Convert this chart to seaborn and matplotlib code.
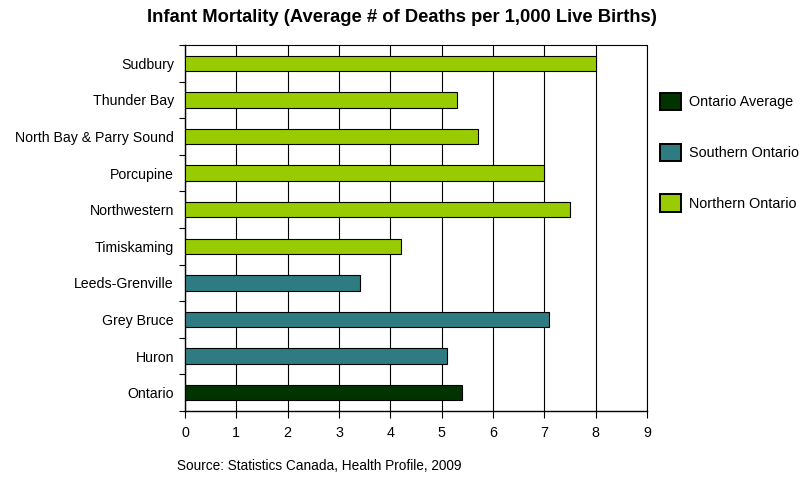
import matplotlib
matplotlib.use("Agg")
import matplotlib.pyplot as plt
from matplotlib.patches import Patch
from matplotlib.ticker import MultipleLocator, FixedLocator, NullFormatter
import seaborn as sns
import pandas as pd

regions = ["Sudbury", "Thunder Bay", "North Bay & Parry Sound", "Porcupine",
           "Northwestern", "Timiskaming", "Leeds-Grenville", "Grey Bruce",
           "Huron", "Ontario"]
values = [8.0, 5.3, 5.7, 7.0, 7.5, 4.2, 3.4, 7.1, 5.1, 5.4]
groups = ["Northern Ontario"] * 6 + ["Southern Ontario"] * 3 + ["Ontario Average"]
legend_order = ["Ontario Average", "Southern Ontario", "Northern Ontario"]
colors = {"Ontario Average": "#003300", "Southern Ontario": "#2E7B82",
          "Northern Ontario": "#99CC00"}

df = pd.DataFrame({"region": regions, "value": values, "group": groups})

sns.set_style("white")
plt.rcParams["font.family"] = ["Liberation Sans", "DejaVu Sans"]
plt.rcParams["text.color"] = "black"
plt.rcParams["xtick.color"] = "black"
plt.rcParams["ytick.color"] = "black"

fig = plt.figure(figsize=(8.12, 4.79), dpi=100)
ax = fig.add_axes([185 / 812, 1 - 411 / 479, (647 - 185) / 812, (411 - 45) / 479])

sns.barplot(data=df, y="region", x="value", hue="group", palette=colors,
            saturation=1, dodge=False, width=0.42, edgecolor="black",
            linewidth=0.8, legend=False, ax=ax, zorder=3)

ax.set_xlim(0, 9)
ax.set_ylim(len(regions) - 0.5, -0.5)
ax.xaxis.set_major_locator(MultipleLocator(1))
ax.grid(axis="x", color="black", linewidth=0.8, zorder=0)
ax.grid(axis="y", visible=False)
ax.set_axisbelow(True)
for s in ax.spines.values():
    s.set_visible(False)
for side in ("left", "bottom"):
    ax.spines[side].set_visible(True)
    ax.spines[side].set_color("black")
    ax.spines[side].set_linewidth(1.0)
ax.axhline(-0.5, color="black", linewidth=0.8, zorder=1, clip_on=False)
ax.axvline(9, color="black", linewidth=0.8, zorder=1, clip_on=False)

ax.set_xlabel("")
ax.set_ylabel("")
ax.tick_params(axis="x", which="major", bottom=True, direction="out", length=5,
               width=0.8, color="black", labelcolor="black", labelsize=10.3, pad=6)
ax.tick_params(axis="y", which="major", left=False, labelcolor="black",
               labelsize=10.2, pad=4.5)
ax.yaxis.set_minor_locator(FixedLocator([i - 0.5 for i in range(len(regions) + 1)]))
ax.yaxis.set_minor_formatter(NullFormatter())
ax.tick_params(axis="y", which="minor", left=True, direction="out", length=4,
               width=0.8, color="black")

fig.text(0.5 * (146 + 657) / 812, 1 - 18 / 479,
         "Infant Mortality (Average # of Deaths per 1,000 Live Births)",
         ha="center", va="center", fontsize=13.2, fontweight="bold", color="black")
fig.text(177 / 812, 1 - 466 / 479, "Source: Statistics Canada, Health Profile, 2009",
         ha="left", va="center", fontsize=9.8, color="black")

handles = [Patch(facecolor=colors[g], edgecolor="black", linewidth=1.4) for g in legend_order]
leg = fig.legend(handles, legend_order, loc="upper left",
                 bbox_to_anchor=(654 / 812, 1 - 87 / 479), frameon=False,
                 fontsize=10.4, handlelength=1.5, handleheight=1.5,
                 labelspacing=2.3, handletextpad=0.55, borderaxespad=0,
                 labelcolor="black")

fig.savefig("out.png", dpi=100)
